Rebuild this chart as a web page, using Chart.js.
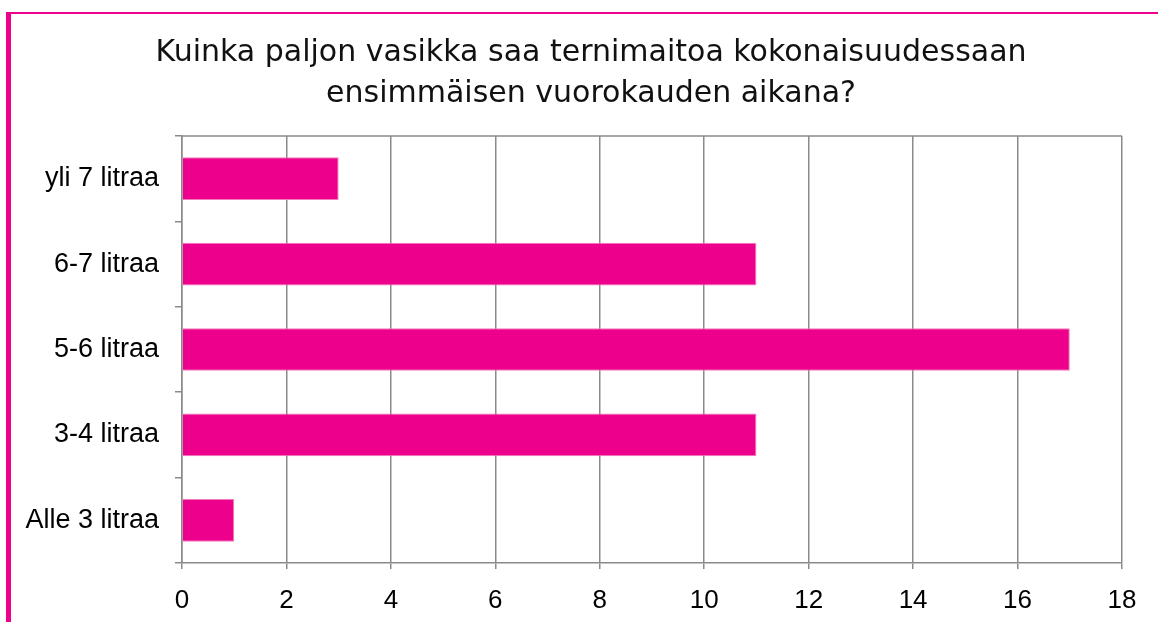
<!DOCTYPE html>
<html>
<head>
<meta charset="utf-8">
<script src="https://cdn.jsdelivr.net/npm/chart.js@4"></script>
<style>
  html, body { margin: 0; padding: 0; width: 1158px; height: 622px; overflow: hidden; background: #fff; }
  #frame {
    position: absolute; left: 6px; top: 12px; width: 1200px; height: 700px;
    border-left: 5px solid #ec008c; border-top: 2px solid #ec008c;
  }
  #wrap { position: absolute; left: 11px; top: 14px; width: 1160px; height: 608px; }
</style>
</head>
<body>
<div id="frame"></div>
<div id="wrap"><canvas id="chart"></canvas></div>
<script>
const categories = ['yli 7 litraa', '6-7 litraa', '5-6 litraa', '3-4 litraa', 'Alle 3 litraa'];
const counts = [3, 11, 17, 11, 1];
const titleLines = ['Kuinka paljon vasikka saa ternimaitoa kokonaisuudessaan', 'ensimmäisen vuorokauden aikana?'];

const gridColor = '#8a8a8a';

// title centred on the whole frame, plus the top edge of the plot box
const framePlugin = {
    id: 'framePlugin',
    afterDraw(chart) {
        const { ctx, chartArea, width } = chart;
        ctx.save();
        ctx.fillStyle = '#111';
        ctx.font = '30px "DejaVu Sans"';
        ctx.textAlign = 'center';
        ctx.textBaseline = 'alphabetic';
        titleLines.forEach((line, i) => ctx.fillText(line, width / 2, 47 + i * 41));

        ctx.strokeStyle = gridColor;
        ctx.lineWidth = 1.5;
        ctx.beginPath();
        ctx.moveTo(chartArea.left, chartArea.top);
        ctx.lineTo(chartArea.right, chartArea.top);
        ctx.stroke();
        ctx.restore();
    }
};

new Chart(document.getElementById('chart'), {
    type: 'bar',
    data: {
        labels: categories,
        datasets: [{
            data: counts,
            backgroundColor: '#ec008c',
            borderColor: '#f27ab9',
            borderWidth: 1,
            barPercentage: 0.5,
            categoryPercentage: 1
        }]
    },
    options: {
        indexAxis: 'y',
        responsive: true,
        maintainAspectRatio: false,
        animation: false,
        layout: { padding: { left: 0, right: 49, top: 122, bottom: 0 } },
        plugins: {
            legend: { display: false },
            tooltip: { enabled: false },
            title: { display: false }
        },
        scales: {
            x: {
                min: 0,
                max: 18,
                ticks: { stepSize: 2, color: '#000', font: { family: 'Liberation Sans', size: 26 }, padding: 16 },
                grid: { color: gridColor, lineWidth: 1.5, tickLength: 6 },
                border: { color: gridColor, width: 1.5 },
                afterFit(scale) { scale.height = 59; }
            },
            y: {
                ticks: { color: '#000', font: { family: 'Liberation Sans', size: 27 }, padding: 16 },
                grid: { offset: true, drawOnChartArea: false, color: gridColor, lineWidth: 1.5, tickLength: 7 },
                border: { color: gridColor, width: 1.5 },
                afterFit(scale) { scale.width = 171; }
            }
        }
    },
    plugins: [framePlugin]
});
</script>
</body>
</html>
